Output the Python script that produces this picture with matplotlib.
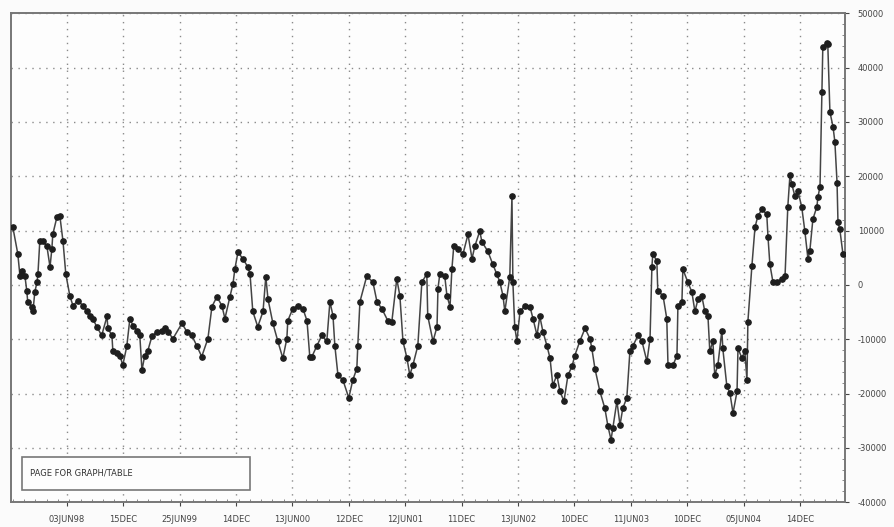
import matplotlib
matplotlib.use("Agg")
import matplotlib.pyplot as plt
import numpy as np
from matplotlib.patches import Rectangle
from matplotlib.ticker import FixedLocator, MultipleLocator, FuncFormatter

# days since start of series (approx. 10 Dec 1997)
days = [
    0, 16, 23, 29, 39, 45, 48, 61, 65, 71, 78, 81, 87, 97, 110, 120, 126, 129,
    142, 152, 162, 171, 184, 194, 210, 226, 239, 249, 258, 271, 287, 304, 307,
    320, 323, 336, 346, 355, 368, 378, 388, 401, 410, 417, 426, 436, 449, 465,
    481, 491, 501, 517, 546, 562, 578, 594, 610, 630, 643, 659, 675, 685, 701,
    711, 717, 727, 743, 759, 766, 775, 791, 808, 817, 824, 840, 856, 872, 885,
    888, 904, 921, 937, 950, 959, 966, 982, 998, 1014, 1024, 1034, 1040, 1050,
    1066, 1085, 1098, 1111, 1114, 1121, 1143, 1163, 1176, 1192, 1211, 1224,
    1240, 1250, 1260, 1273, 1282, 1292, 1308, 1321, 1337, 1340, 1357, 1370,
    1373, 1379, 1395, 1402, 1412, 1418, 1424, 1437, 1454, 1470, 1483, 1492,
    1508, 1515, 1534, 1550, 1563, 1573, 1583, 1589, 1605, 1612, 1615, 1621,
    1628, 1638, 1654, 1670, 1680, 1693, 1702, 1712, 1725, 1735, 1744, 1757,
    1767, 1780, 1793, 1806, 1815, 1831, 1848, 1864, 1870, 1880, 1896, 1912,
    1922, 1932, 1938, 1951, 1961, 1970, 1983, 1993, 2003, 2019, 2032, 2048,
    2058, 2064, 2067, 2080, 2083, 2100, 2112, 2116, 2132, 2145, 2148, 2161,
    2164, 2180, 2193, 2203, 2213, 2225, 2235, 2245, 2251, 2261, 2267, 2277,
    2290, 2293, 2306, 2316, 2326, 2339, 2342, 2355, 2364, 2371, 2374, 2387,
    2397, 2406, 2419, 2435, 2439, 2445, 2455, 2468, 2484, 2494, 2503, 2510,
    2516, 2526, 2536, 2548, 2558, 2568, 2574, 2584, 2597, 2600, 2607, 2613,
    2616, 2629, 2632, 2639, 2649, 2655, 2662, 2665, 2671, 2681,
]

values = [
    10600, 5700, 1600, 2600, 1600, -1100, -3100, -4000, -4800, -1300, 500,
    2000, 8000, 8000, 7100, 3300, 6600, 9300, 12400, 12600, 8000, 2000, -2000,
    -3800, -2900, -3800, -4900, -5700, -6200, -7700, -9300, -5800, -8000,
    -9300, -12200, -12600, -13000, -14800, -11300, -6200, -7500, -8400, -9300,
    -15700, -13000, -12100, -9500, -8600, -8400, -8000, -8600, -9900, -7100,
    -8600, -9300, -11200, -13200, -9900, -4000, -2200, -3800, -6200, -2200,
    200, 2900, 6000, 4800, 3300, 2000, -4900, -7700, -4900, 1500, -2600,
    -7100, -10400, -13500, -9900, -6600, -4400, -3800, -4400, -6600, -13200,
    -13200, -11200, -9300, -10400, -3100, -5700, -11200, -16600, -17500,
    -20800, -17500, -15400, -11300, -3100, 1600, 500, -3100, -4400, -6600,
    -6800, 1100, -2000, -10400, -13500, -16600, -14800, -11200, 500, 2000,
    -5700, -10400, -7700, -700, 2000, 1600, -2000, -4000, 2900, 7100, 6600,
    5700, 9300, 4800, 7100, 9900, 7900, 6200, 3800, 2000, 500, -2000, -4900,
    1500, 16300, 500, -7700, -10400, -4900, -3800, -4000, -6200, -9300, -5800,
    -8600, -11200, -13500, -18500, -16600, -19600, -21400, -16600, -15000,
    -13000, -10400, -8000, -9900, -11700, -15400, -19600, -22700, -26000,
    -28500, -26300, -21400, -25800, -22700, -20800, -12200, -11200, -9300,
    -10400, -14100, -9900, 3300, 5700, 4400, -1100, -2000, -6200, -14800,
    -14800, -13000, -3800, -3100, 2900, 500, -1300, -4900, -2600, -2000,
    -4900, -5700, -12200, -10400, -16600, -14800, -8400, -11700, -18600,
    -19900, -23600, -19600, -11700, -13500, -12100, -17500, -6800, 3500,
    10600, 12600, 13900, 13000, 8800, 3800, 500, 500, 1100, 1600, 14400,
    20300, 18500, 16300, 17200, 14300, 9900, 4800, 6200, 12100, 14400, 16100,
    18100, 35500, 43700, 44600, 44400, 31800, 29100, 26300, 18800, 11500,
    10200, 5700,
]

tick_labels = [
    "03JUN98", "15DEC", "25JUN99", "14DEC", "13JUN00", "12DEC", "12JUN01",
    "11DEC", "13JUN02", "10DEC", "11JUN03", "10DEC", "05JUN04", "14DEC",
]
first_tick_day = 174
half_year_days = 182.2

plt.rcParams["font.family"] = ["DejaVu Sans"]
plt.rcParams["axes.unicode_minus"] = False

fig = plt.figure(figsize=(8.94, 5.27), dpi=100, facecolor="#fbfbfb")
ax = fig.add_axes([0.0123, 0.047, 0.933, 0.928])
ax.set_facecolor("#fdfdfd")

ax.plot(days, values, color="#444444", linewidth=1.1,
        marker="o", markersize=3.8, markerfacecolor="#1e1e1e",
        markeredgecolor="#1e1e1e", zorder=3)

ax.set_xlim(-6, 2688)
ax.set_ylim(-40000, 50000)

tick_pos = first_tick_day + half_year_days * np.arange(len(tick_labels))
ax.xaxis.set_major_locator(FixedLocator(tick_pos))
ax.set_xticklabels(tick_labels)
ax.xaxis.set_minor_locator(MultipleLocator(half_year_days / 5))

ax.yaxis.tick_right()
ax.yaxis.set_major_locator(MultipleLocator(10000))
ax.yaxis.set_minor_locator(MultipleLocator(2000))
ax.yaxis.set_major_formatter(FuncFormatter(lambda v, p: f"{int(v)}"))

ax.tick_params(axis="both", which="major", labelsize=6, colors="#444444",
               length=3, width=0.8)
ax.tick_params(axis="both", which="minor", length=2, width=0.6,
               colors="#777777", direction="in")
ax.tick_params(axis="x", pad=6)
ax.tick_params(axis="y", pad=6)

ax.grid(True, which="major", color="#8a8a8a", linestyle=(0, (1, 4)),
        linewidth=1.0)

for side in ax.spines.values():
    side.set_color("#777777")
    side.set_linewidth(1.4)

ax.add_patch(Rectangle((0.013, 0.025), 0.274, 0.068, transform=ax.transAxes,
                       facecolor="#fdfdfd", edgecolor="#777777",
                       linewidth=1.2, zorder=4))
ax.text(0.023, 0.059, "PAGE FOR GRAPH/TABLE", transform=ax.transAxes,
        fontsize=6, color="#333333", va="center", ha="left", zorder=5)

fig.savefig("out.png", dpi=100, facecolor=fig.get_facecolor())
